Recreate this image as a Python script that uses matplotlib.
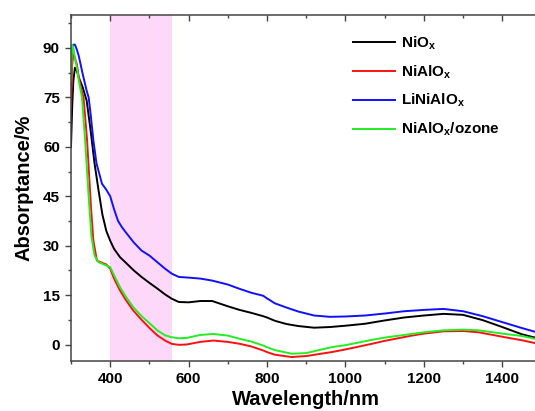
import matplotlib
matplotlib.use("Agg")
import matplotlib.pyplot as plt
from matplotlib.ticker import MultipleLocator

# --- data (wavelength in nm, absorptance in %) ---
wl_nio = [300, 303, 306, 310, 315, 320, 330, 340, 350, 360, 370, 380, 390, 400,
          410, 425, 440, 460, 480, 500, 520, 540, 557, 575, 600, 630, 660, 700,
          730, 760, 790, 800, 820, 850, 880, 920, 960, 1000, 1050, 1100, 1150,
          1200, 1250, 1300, 1350, 1400, 1450, 1500]
nio = [60, 72, 80, 84, 83, 81, 78, 74, 65, 55, 47, 39.5, 34.5, 31.5,
       29, 26.5, 24.8, 22.5, 20.5, 18.7, 17, 15.2, 13.9, 12.9, 12.8, 13.2, 13.2, 11.6,
       10.5, 9.6, 8.6, 8.2, 7.2, 6.2, 5.6, 5.1, 5.3, 5.7, 6.3, 7.3, 8.2,
       8.8, 9.3, 9.0, 7.4, 5.3, 3.1, 1.6]

wl_nialo = [300, 303, 306, 310, 315, 320, 325, 332, 341, 351, 357, 366, 375, 390,
            400, 410, 425, 440, 459, 480, 502, 520, 540, 557, 575, 595, 630, 663,
            700, 731, 760, 790, 800, 820, 863, 900, 965, 1000, 1067, 1100, 1169,
            1200, 1250, 1300, 1340, 1407, 1450, 1500]
nialo = [72, 85, 88, 87, 85, 81, 78, 75, 62, 41.7, 31.6, 25.5, 25, 24.3,
         23, 20, 16.4, 13.5, 10.3, 7.5, 4.8, 2.8, 1.2, 0.2, -0.1, 0, 0.8, 1.2,
         0.8, 0.2, -0.6, -1.8, -2.3, -3.1, -3.8, -3.5, -2.3, -1.5, 0.2, 1.1, 2.7,
         3.3, 4.0, 4.1, 3.7, 2.2, 1.3, 0]

wl_li = [300, 303, 306, 310, 315, 320, 330, 340, 345, 350, 357, 365, 379, 390,
         400, 410, 420, 430, 440, 460, 480, 500, 520, 540, 557, 575, 600, 630,
         660, 700, 730, 760, 790, 800, 820, 850, 880, 920, 960, 1000, 1050,
         1100, 1150, 1200, 1250, 1300, 1350, 1400, 1450, 1500]
linialo = [85, 89, 91, 91, 89.5, 87.5, 82, 77, 75, 70, 62, 55, 48.8, 47,
           45, 41, 37.5, 35.6, 34, 31, 28.5, 27, 25, 23, 21.5, 20.5, 20.3, 20,
           19.4, 18.2, 16.9, 15.7, 14.8, 14.0, 12.5, 11.2, 10, 8.8, 8.4, 8.5, 8.8,
           9.4, 10.1, 10.5, 10.8, 10.1, 8.6, 6.8, 5.0, 3.3]

wl_ozone = [300, 303, 306, 310, 315, 320, 328, 336, 345, 352, 360, 370, 380, 390,
            400, 410, 425, 440, 459, 480, 502, 520, 540, 557, 575, 595, 630, 663,
            700, 731, 760, 790, 800, 820, 863, 900, 965, 1000, 1067, 1100, 1169,
            1200, 1250, 1300, 1340, 1407, 1450, 1500]
ozone = [80, 91, 90, 87, 84, 80, 75, 62, 45, 33, 27, 25, 24.5, 24,
         23.5, 21, 17.4, 14.5, 11.3, 8.6, 6.3, 4.3, 2.8, 2.2, 1.9, 2.0, 2.9, 3.2,
         2.7, 1.7, 0.9, -0.3, -0.8, -1.7, -2.8, -2.6, -0.8, -0.2, 1.4, 2.1, 3.2,
         3.7, 4.3, 4.5, 4.3, 3.2, 2.6, 1.3]

band = (400, 557)

plt.rcParams['font.family'] = ['Liberation Sans', 'DejaVu Sans']
plt.rcParams['font.weight'] = 'bold'
plt.rcParams['mathtext.fontset'] = 'custom'
plt.rcParams['mathtext.rm'] = 'Liberation Sans:bold'
plt.rcParams['mathtext.bf'] = 'Liberation Sans:bold'
plt.rcParams['mathtext.it'] = 'Liberation Sans:bold'

fig = plt.figure(figsize=(5.35, 4.11), dpi=100)
ax = fig.add_axes([0.1327, 0.1217, 0.8794, 0.8418])

ax.axvspan(*band, color='#FDD8F8', lw=0, zorder=0)
ax.plot(wl_nio, nio, color='black', lw=1.4, label=r'NiO$_\mathregular{x}$')
ax.plot(wl_nialo, nialo, color='#FF1010', lw=1.4, label=r'NiAlO$_\mathregular{x}$')
ax.plot(wl_li, linialo, color='#1010FF', lw=1.4, label=r'LiNiAlO$_\mathregular{x}$')
ax.plot(wl_ozone, ozone, color='#22EE22', lw=1.4, label=r'NiAlO$_\mathregular{x}$/ozone')

ax.set_xlim(300, 1500)
ax.set_ylim(-5, 100)
ax.xaxis.set_minor_locator(MultipleLocator(100))
ax.yaxis.set_minor_locator(MultipleLocator(7.5))
ax.set_yticks([0, 15, 30, 45, 60, 75, 90])
ax.set_xticks([400, 600, 800, 1000, 1200, 1400])

for s in ax.spines.values():
    s.set_color('#444444')
    s.set_linewidth(1.1)
ax.tick_params(which='both', top=True, right=True, color='#444444', width=1,
               direction='out', labeltop=False, labelright=False)
ax.tick_params(which='major', length=4, labelsize=11, pad=4)
ax.tick_params(which='minor', length=2.5)
for lab in ax.get_xticklabels() + ax.get_yticklabels():
    lab.set_fontweight('bold')
# top and right ticks point inward
for t in ax.xaxis.get_major_ticks() + ax.xaxis.get_minor_ticks():
    t.tick2line.set_marker(3)
for t in ax.yaxis.get_major_ticks() + ax.yaxis.get_minor_ticks():
    t.tick2line.set_marker(0)

ax.set_xlabel('Wavelength/nm', fontsize=14.5, fontweight='bold', labelpad=3)
ax.set_ylabel('Absorptance/%', fontsize=14.5, fontweight='bold', labelpad=7)

ax.legend(loc='upper left', bbox_to_anchor=(0.645, 0.935), bbox_transform=fig.transFigure,
          frameon=False, handlelength=2.8, handletextpad=0.35,
          labelspacing=0.75, borderpad=0, prop={'weight': 'bold', 'size': 11})

fig.savefig('out.png', dpi=100)
